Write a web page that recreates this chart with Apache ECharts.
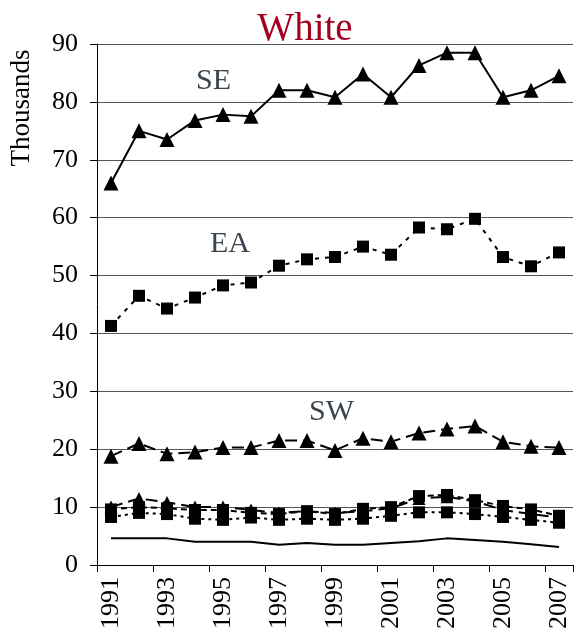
<!DOCTYPE html>
<html>
<head>
<meta charset="utf-8">
<script src="https://cdn.jsdelivr.net/npm/echarts@6/dist/echarts.min.js"></script>
<style>
  html, body { margin: 0; padding: 0; background: #fff; }
  #main { width: 576px; height: 642px; }
</style>
</head>
<body>
<div id="main"></div>
<script>
// years on the x axis
var years = ['1991','1992','1993','1994','1995','1996','1997','1998','1999',
             '2000','2001','2002','2003','2004','2005','2006','2007'];

// values in thousands
var seVals = [66.0, 75.0, 73.5, 76.8, 77.8, 77.5, 82.0, 82.0, 80.8, 84.8, 80.8, 86.3, 88.5, 88.5, 80.8, 82.0, 84.5];
var eaVals = [41.3, 46.5, 44.3, 46.2, 48.3, 48.8, 51.7, 52.8, 53.2, 55.0, 53.6, 58.3, 58.0, 59.8, 53.2, 51.6, 54.0];
var swVals = [18.8, 21.0, 19.2, 19.5, 20.3, 20.3, 21.5, 21.5, 19.8, 21.9, 21.3, 22.8, 23.5, 24.0, 21.3, 20.5, 20.3];
var lowTri = [10.0, 11.5, 10.8, 10.0, 10.0, 9.5, 9.0, 9.3, 9.0, 9.3, 9.8, 11.5, 11.8, 11.0, 9.5, 8.8, 8.2];
var lowSq1 = [9.6, 10.0, 9.8, 9.5, 9.5, 9.0, 8.8, 9.3, 8.8, 9.7, 10.0, 11.9, 12.1, 11.2, 10.2, 9.6, 8.5];
var lowSq2 = [8.3, 9.0, 8.8, 8.0, 7.8, 8.2, 7.8, 8.0, 7.8, 8.0, 8.5, 9.1, 9.1, 8.8, 8.3, 7.8, 7.3];
var lowLine = [4.6, 4.6, 4.6, 4.0, 4.0, 4.0, 3.5, 3.8, 3.5, 3.5, 3.8, 4.1, 4.6, 4.3, 4.0, 3.6, 3.1];

var serif = '"Liberation Serif", "DejaVu Serif", serif';

var myChart = echarts.init(document.getElementById('main'));

var mkLine = function(name, data, symbol, size, type) {
    return {
        name: name,
        type: 'line',
        data: data,
        symbol: symbol,
        symbolSize: size,
        showSymbol: symbol !== 'none',
        itemStyle: { color: '#000' },
        lineStyle: { color: '#000', width: 2, type: type },
        animation: false
    };
};

var option = {
    title: {
        text: 'White',
        left: 300,
        textAlign: 'center',
        top: 5,
        textStyle: { fontFamily: serif, fontSize: 39, fontWeight: 'normal', color: '#a50021' }
    },
    grid: { left: 97, right: 3, top: 44, bottom: 77 },
    xAxis: {
        type: 'category',
        data: years,
        boundaryGap: true,
        axisLine: { lineStyle: { color: '#000', width: 1 } },
        axisTick: { show: true, length: 7, lineStyle: { color: '#000' } },
        axisLabel: {
            interval: 1,
            rotate: 90,
            fontFamily: serif,
            fontSize: 26,
            color: '#000',
            margin: 12
        },
        splitLine: { show: false }
    },
    yAxis: {
        type: 'value',
        min: 0,
        max: 90,
        interval: 10,
        axisLine: { show: true, lineStyle: { color: '#000', width: 1 } },
        axisTick: { show: true, length: 7, lineStyle: { color: '#000' } },
        axisLabel: { fontFamily: serif, fontSize: 26, color: '#000', margin: 19 },
        splitLine: { show: true, lineStyle: { color: '#555', width: 1 } }
    },
    graphic: [
        {
            type: 'text', x: 22, y: 108, rotation: Math.PI / 2,
            style: { text: 'Thousands', font: '27px ' + serif, fill: '#000',
                     align: 'center', verticalAlign: 'middle', textAlign: 'center', textVerticalAlign: 'middle' }
        },
        { type: 'text', left: 196, top: 66, style: { text: 'SE', font: '30px ' + serif, fill: '#3b4650' } },
        { type: 'text', left: 210, top: 229, style: { text: 'EA', font: '30px ' + serif, fill: '#3b4650' } },
        { type: 'text', left: 309, top: 397, style: { text: 'SW', font: '30px ' + serif, fill: '#3b4650' } }
    ],
    series: [
        mkLine('SE', seVals, 'triangle', 15, 'solid'),
        mkLine('EA', eaVals, 'rect', 12, [4, 6]),
        mkLine('SW', swVals, 'triangle', 15, [12, 6]),
        mkLine('Low triangle', lowTri, 'triangle', 13, [12, 6]),
        mkLine('Low square 1', lowSq1, 'rect', 12, [6, 4]),
        mkLine('Low square 2', lowSq2, 'rect', 12, [3, 4]),
        mkLine('Low line', lowLine, 'none', 0, 'solid')
    ]
};
myChart.setOption(option);
</script>
</body>
</html>
